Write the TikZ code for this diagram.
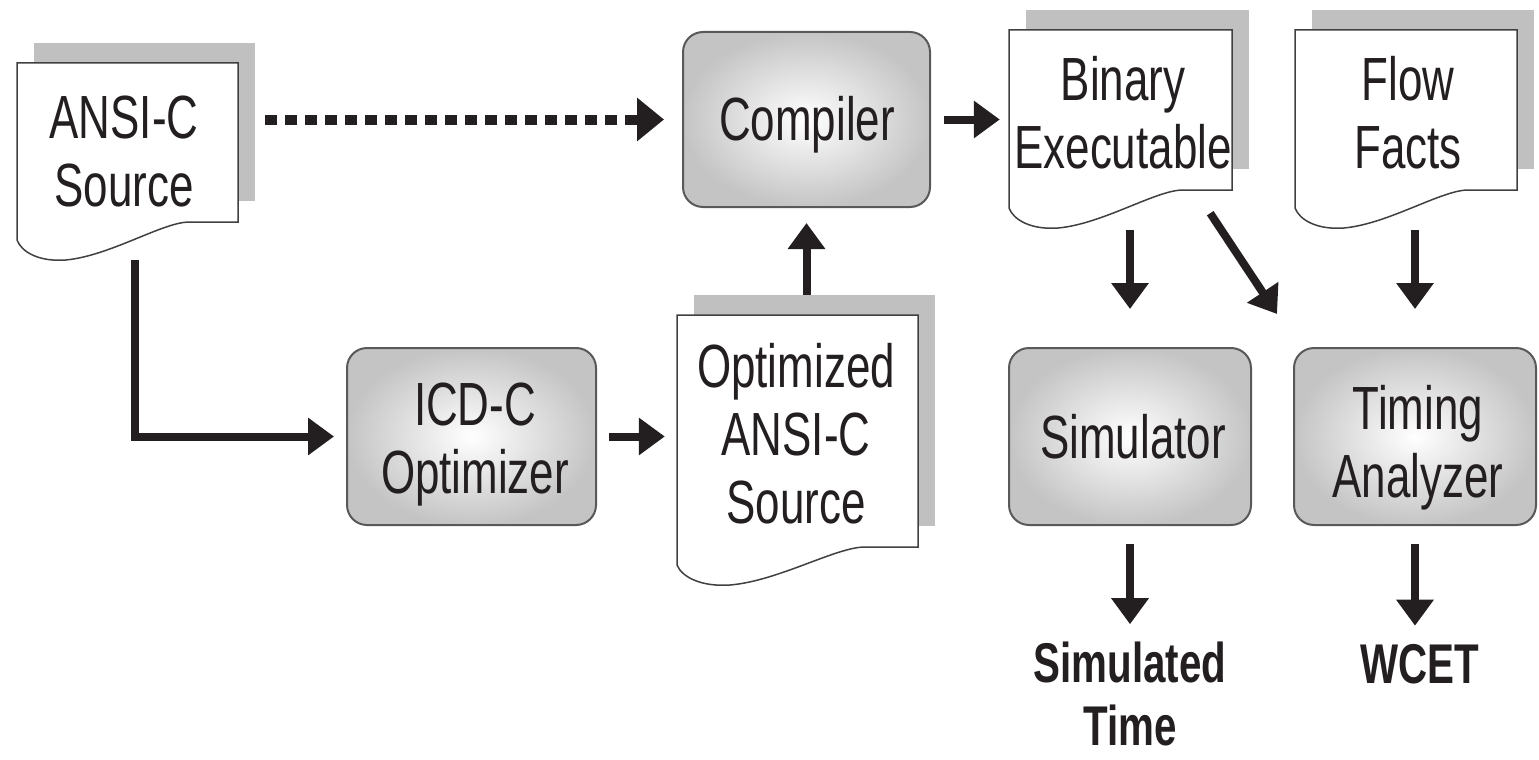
\documentclass[tikz,border=0pt]{standalone}
\usepackage{fontspec}
\setmainfont{Liberation Sans}[FakeStretch=0.72]
\usetikzlibrary{arrows.meta,calc}
\definecolor{ink}{HTML}{231F20}
\definecolor{shadowgray}{HTML}{C0C0C0}
\tikzset{
  docline/.style={draw=black!75, line width=1.5pt, fill=white},
  docshadow/.style={fill=shadowgray},
  proc/.style={draw=black!65, line width=2pt, rounded corners=20pt, inner sep=0pt,
    inner color=white, outer color=black!23},
  txt/.style={inner sep=0pt, align=center, anchor=base, text=ink,
    font=\fontsize{61}{68}\selectfont},
  btxt/.style={inner sep=0pt, align=center, anchor=base, text=ink,
    font=\fontsize{56}{63}\selectfont\bfseries},
  arr/.style={draw=ink, line width=8pt, -{Triangle[length=26pt,width=36pt]}},
  darr/.style={draw=ink, line width=10pt, dash pattern=on 12pt off 8pt,
    -{Triangle[length=27pt,width=42pt]}}
}
% #1 name, #2 left, #3 top, #4 right, #5 bottom of right edge
\newcommand\docshape[5]{%
  \fill[docshadow] ({#2+17},{#3-20}) rectangle ({#4+17},{#5-21});
  \draw[docline] (#2,#3) -- (#4,#3) -- (#4,#5)
    -- ({#4-0.22*(#4-#2)},#5)
    .. controls ({#4-0.34*(#4-#2)},#5) and ({#2+0.42*(#4-#2)},{#5+34}) .. ({#2+0.22*(#4-#2)},{#5+38})
    .. controls ({#2+0.1*(#4-#2)},{#5+40}) and ({#2+0.02*(#4-#2)},{#5+30}) .. (#2,{#5+18})
    -- cycle;
  \node[inner sep=0pt, minimum width={(#4-#2)*1pt}, minimum height={(#5-#3)*1pt}]
    (#1) at ({(#2+#4)/2},{(#3+#5)/2}) {};
}
\begin{document}
\begin{tikzpicture}[x=1pt,y=-1pt]
\useasboundingbox (0,0) rectangle (1539,760);

% documents
\docshape{ansi}{17}{63}{238}{222}
\docshape{opt}{677}{315}{918}{547}
\docshape{bin}{1009}{30}{1232}{190}
\docshape{flow}{1295}{30}{1517}{190}

% process boxes
\node[proc, minimum width=247pt, minimum height=175pt] (comp) at (806.5,119.5) {};
\node[proc, minimum width=249pt, minimum height=177pt] (icd) at (471.5,436.5) {};
\node[proc, minimum width=242pt, minimum height=177pt] (sim) at (1130,436.5) {};
\node[proc, minimum width=242pt, minimum height=177pt] (tim) at (1415,436.5) {};

% texts (base anchor = baseline of the last line)
\node[txt] (ansit) at (124,206) {ANSI-C\\Source};
\node[txt] (compt) at (807,140) {Compiler};
\node[txt] (bint) at (1123,168) {Binary\\Executable};
\node[txt] (flowt) at (1408,168) {Flow\\Facts};
\node[txt] (icdt) at (475,493) {ICD-C\\Optimizer};
\node[txt] (optt) at (796,523) {Optimized\\ANSI-C\\Source};
\node[txt] (simt) at (1133,458) {Simulator};
\node[txt] (timt) at (1418,497) {Timing\\Analyzer};
\node[btxt] (simtime) at (1130,745) {Simulated\\Time};
\node[btxt] (wcet) at (1420,683) {WCET};

% connectors
\draw[darr, shorten <=27pt, shorten >=18pt] (ansi.east |- comp.west) -- (comp.west);
\draw[arr, shorten <=13pt, shorten >=9pt] (comp.east) -- (comp.east -| bin.west);
\draw[arr, shorten <=38pt, shorten >=12pt] ([xshift=7.5pt]ansi.south) |- (icd.west);
\draw[arr, shorten <=12pt, shorten >=12pt] (icd.east) -- (icd.east -| opt.west);
\draw[arr, shorten <=20pt, shorten >=15pt] (opt.north -| comp.south) -- (comp.south);
\draw[arr, shorten <=40pt, shorten >=38pt] (bin.south -| sim.north) -- (sim.north);
\draw[arr] ($(bin.south east)+(-22,23)$) -- ($(tim.north west)+(-16,-33)$);
\draw[arr, shorten <=40pt, shorten >=38pt] (flow.south -| tim.north) -- (tim.north);
\draw[arr, shorten <=18pt, shorten >=17pt] (sim.south) -- (sim.south |- simtime.north);
\draw[arr, shorten <=18pt, shorten >=18pt] (tim.south) -- (tim.south |- wcet.north);
\end{tikzpicture}
\end{document}
